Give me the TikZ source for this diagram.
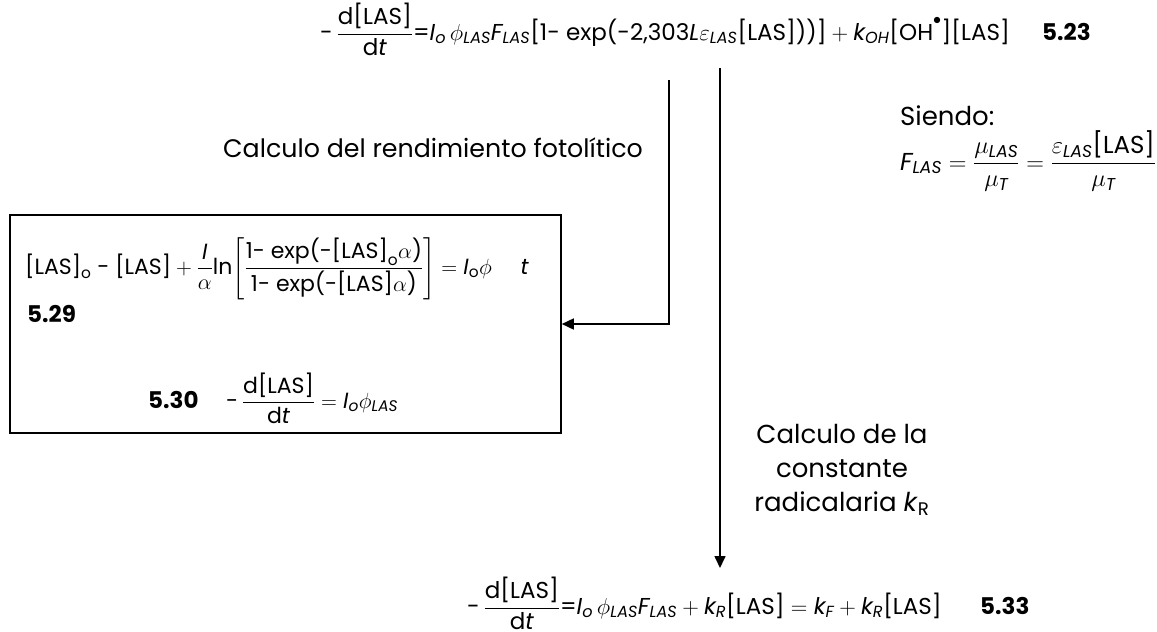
\RequirePackage{fix-cm}
\documentclass[tikz,border=0pt]{standalone}
\usepackage{amsmath}
\usepackage{fontspec}
\setmainfont{Poppins}
\usepackage{tikz}
\usetikzlibrary{arrows.meta}
\newcommand{\ix}[1]{\textit{#1}}
\newcommand{\dlas}{\text{-}\,\dfrac{\text{d[LAS]}}{\text{d}\ix{t}}}

\begin{document}
\begin{tikzpicture}[x=1pt,y=-1pt,font=\fontsize{26}{34}\selectfont,
    >={Triangle[length=12pt,width=11pt]},
    eqn/.style={anchor=base west,inner sep=0pt,font=\fontsize{23}{30}\selectfont},
    tag/.style={anchor=base west,inner sep=0pt,font=\fontsize{23}{30}\selectfont\bfseries},
    flow/.style={->,line width=1.6pt}]
  \useasboundingbox (0,0) rectangle (1157,632);
  \node[eqn] (eqtop) at (320,40)
    {$\dlas\text{=}\ix{I}_{\ix{o}}\,\phi_{\ix{LAS}}\ix{F}_{\ix{LAS}}\text{[1- exp(-2,303}\ix{L}\varepsilon_{\ix{LAS}}\text{[LAS]))]}+\ix{k}_{\ix{OH}}\text{[OH}^{\bullet}\text{][LAS]}$};
  \node[tag] (t523) at (1042,40) {5.23};
  \node[eqn,font=\fontsize{26}{34}\selectfont] (sien) at (900,125) {Siendo:};
  \node[eqn,font=\fontsize{24.5}{30}\selectfont] (flas) at (900,170)
    {$\ix{F}_{\ix{LAS}}=\dfrac{\mu_{\ix{LAS}}}{\mu_{\ix{T}}}=\dfrac{\varepsilon_{\ix{LAS}}\text{[LAS]}}{\mu_{\ix{T}}}$};
  \node[eqn,font=\fontsize{25.3}{34}\selectfont] (rend) at (223,157) {Calculo del rendimiento fotolítico};
  \node[draw,line width=1.6pt,minimum width=551pt,minimum height=218pt,inner sep=0pt]
    (box) at (285.5,324) {};
  \node[eqn,font=\fontsize{22}{30}\selectfont] (eqint) at (25,274)
    {$\text{[LAS]}_{\text{o}}\ \text{-}\ \text{[LAS]}+\dfrac{\ix{I}}{\alpha}\text{ln}\!\left[\dfrac{\text{1- exp(-[LAS]}_{\text{o}}\alpha\text{)}}{\text{1- exp(-[LAS]}\alpha\text{)}}\right]=\ix{I}_{\text{o}}\phi$\hspace{1.3em}\ix{t}};
  \node[tag] (t529) at (27,322) {5.29};
  \node[tag] (t530) at (148,408) {5.30};
  \node[eqn,font=\fontsize{22}{30}\selectfont] (eqdif) at (226,408) {$\dlas=\ix{I}_{\ix{o}}\phi_{\ix{LAS}}$};
  \node[align=center,anchor=north,inner sep=0pt] (krad) at (842,424)
    {Calculo de la\\constante\\radicalaria \ix{k}\textsubscript{R}};
  \node[eqn] (eqbot) at (467,614)
    {$\dlas\text{=}\ix{I}_{\ix{o}}\,\phi_{\ix{LAS}}\ix{F}_{\ix{LAS}}+\ix{k}_{\ix{R}}\text{[LAS]}=\ix{k}_{\ix{F}}+\ix{k}_{\ix{R}}\text{[LAS]}$};
  \node[tag] (t533) at (980,614) {5.33};
  \coordinate (a1) at (669,80);
  \coordinate (a2) at (720,68);
  \coordinate (a2end) at (720,568);
  \draw[flow] (a1) |- (box.east);
  \draw[flow] (a2) -- (a2end);
\end{tikzpicture}
\end{document}
